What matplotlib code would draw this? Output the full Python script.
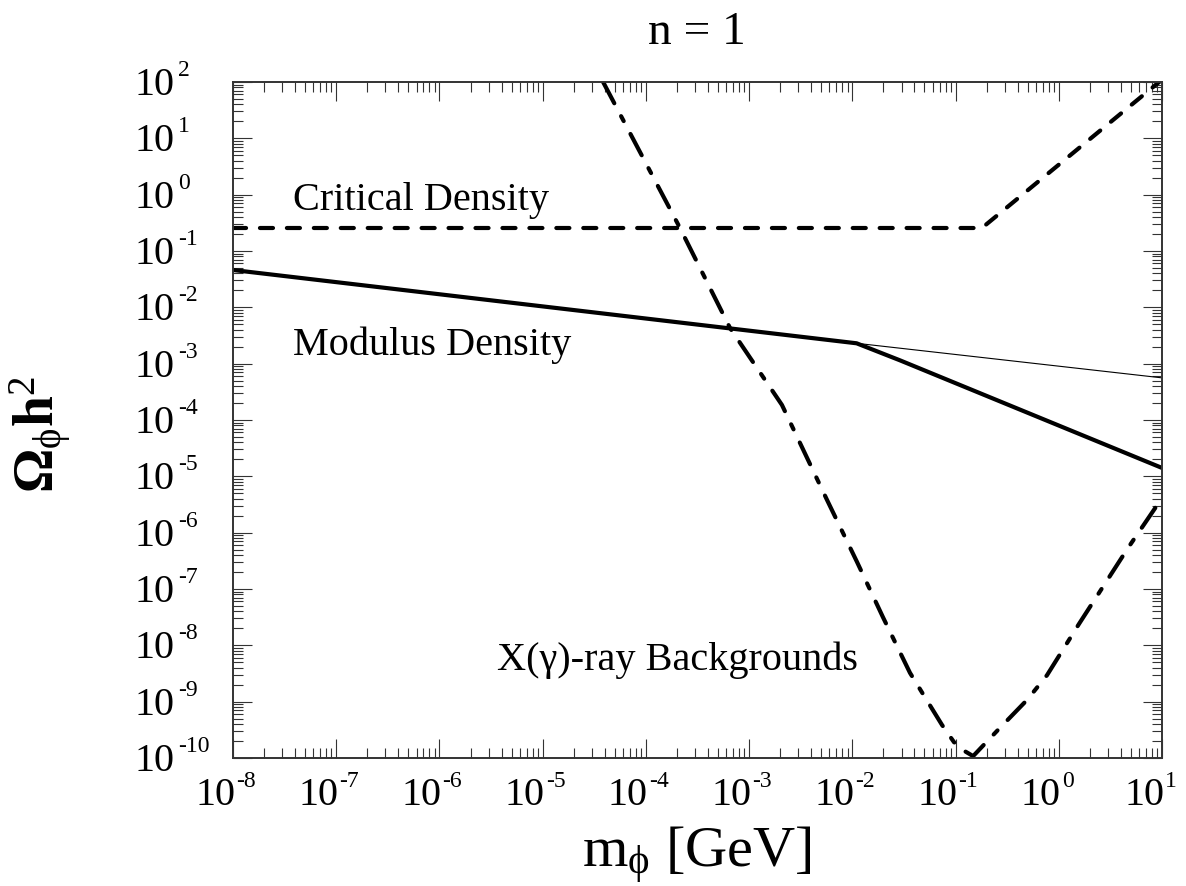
import matplotlib
matplotlib.use('Agg')
import matplotlib.pyplot as plt
from matplotlib.ticker import LogLocator, NullFormatter

plt.rcParams['font.family'] = ['Liberation Serif', 'DejaVu Serif']
plt.rcParams['mathtext.fontset'] = 'custom'
plt.rcParams['mathtext.rm'] = 'Liberation Serif'
plt.rcParams['mathtext.it'] = 'Liberation Serif:italic'
plt.rcParams['mathtext.bf'] = 'Liberation Serif:bold'
plt.rcParams['mathtext.fallback'] = 'stix'
plt.rcParams['lines.scale_dashes'] = False

# ---------------- data ----------------
x_exponents = [-8, -7, -6, -5, -4, -3, -2, -1, 0, 1]
y_exponents = [-10, -9, -8, -7, -6, -5, -4, -3, -2, -1, 0, 1, 2]

crit_x = [1e-8, 0.18, 10.0]
crit_y = [0.256, 0.256, 110.0]

mod_x = [1e-8, 1.1e-2, 2.88e-2, 10.0]
mod_y = [0.046, 2.3e-3, 1.15e-3, 1.41e-5]

mod_thin_x = [1.1e-2, 10.0]
mod_thin_y = [2.3e-3, 5.6e-4]

xray_x = [3.85e-5, 2.14e-4, 6.53e-4, 2.08e-3, 5.69e-3, 1.11e-2, 1.98e-2,
          3.62e-2, 7.40e-2, 9.66e-2, 0.118, 0.148, 0.258, 0.492, 0.769,
          1.57, 4.69, 10.0]
xray_y = [100.0, 0.256, 4.30e-3, 1.85e-4, 3.80e-6, 3.02e-7, 3.16e-8,
          3.24e-9, 3.85e-10, 1.91e-10, 1.38e-10, 1.08e-10, 3.16e-10,
          1.07e-9, 2.95e-9, 2.40e-8, 5.37e-7, 4.12e-6]

title = 'n = 1'
xlabel = '$\\mathrm{m}_{\\mathrm{\u03d5}}$ [GeV]'
ylabel = '$\\mathbf{\u03a9}_{\\mathrm{\u03d5}}\\mathbf{h}^{\\mathrm{2}}$'
label_crit = 'Critical Density'
label_mod = 'Modulus Density'
label_xray = 'X(\u03b3)-ray Backgrounds'

# ---------------- figure ----------------
PX = 72.0 / 100.0  # points per pixel at dpi 100

fig = plt.figure(figsize=(11.86, 8.86), dpi=100)
ax = fig.add_axes([233 / 1186, 128 / 886, 929 / 1186, 676 / 886])
ax.set_xscale('log')
ax.set_yscale('log')
ax.set_xlim(1e-8, 1e1)
ax.set_ylim(1e-10, 1e2)

lw = 3.0
ax.plot(crit_x, crit_y, color='black', lw=lw, dashes=(9.4, 10.0),
        dash_capstyle='round', solid_capstyle='round')
ax.plot(mod_x, mod_y, color='black', lw=lw, solid_capstyle='round',
        solid_joinstyle='round')
ax.plot(mod_thin_x, mod_thin_y, color='black', lw=0.8)
ax.plot(xray_x, xray_y, color='black', lw=lw,
        dashes=(17.3, 10.5, 4.0, 10.5), dash_capstyle='round')

# ticks
ax.xaxis.set_major_locator(LogLocator(base=10, numticks=20))
ax.yaxis.set_major_locator(LogLocator(base=10, numticks=20))
ax.xaxis.set_minor_locator(LogLocator(base=10, subs=range(2, 10), numticks=100))
ax.yaxis.set_minor_locator(LogLocator(base=10, subs=range(2, 10), numticks=100))
ax.xaxis.set_major_formatter(NullFormatter())
ax.yaxis.set_major_formatter(NullFormatter())
ax.xaxis.set_minor_formatter(NullFormatter())
ax.yaxis.set_minor_formatter(NullFormatter())
ax.tick_params(which='both', direction='in', top=True, right=True, width=0.8,
               color='#333333')
ax.tick_params(which='major', length=19 * PX)
ax.tick_params(which='minor', length=10 * PX)
for s in ax.spines.values():
    s.set_linewidth(1.4)
    s.set_color('#333333')

# manual tick labels (10 with raised exponent)
xt = ax.get_xaxis_transform()
for e in x_exponents:
    ax.annotate('10', xy=(10.0 ** e, 0), xycoords=xt,
                xytext=(2 * PX, -47 * PX), textcoords='offset points',
                ha='right', va='baseline', fontsize=29, annotation_clip=False)
    ax.annotate(str(e), xy=(10.0 ** e, 0), xycoords=xt,
                xytext=(3 * PX, -13 * PX), textcoords='offset points',
                ha='left', va='top', fontsize=17, annotation_clip=False)

yt = ax.get_yaxis_transform()
for e in y_exponents:
    ax.annotate('10', xy=(0, 10.0 ** e), xycoords=yt,
                xytext=(-58 * PX, -13 * PX), textcoords='offset points',
                ha='right', va='baseline', fontsize=29, annotation_clip=False)
    ax.annotate(str(e), xy=(0, 10.0 ** e), xycoords=yt,
                xytext=(-55 * PX, 22 * PX), textcoords='offset points',
                ha='left', va='top', fontsize=17, annotation_clip=False)

# in-plot labels
ax.text(10 ** -7.42, 10 ** -0.27, label_crit, fontsize=29, ha='left', va='baseline')
ax.text(10 ** -7.42, 10 ** -2.85, label_mod, fontsize=29, ha='left', va='baseline')
ax.text(10 ** -5.44, 10 ** -8.44, label_xray, fontsize=29, ha='left', va='baseline')

fig.text(697 / 1186, (886 - 44) / 886, title, fontsize=34, ha='center', va='baseline')
fig.text(697 / 1186, 19 / 886, xlabel, fontsize=42, ha='center', va='baseline')
fig.text(41 / 1186, (886 - 434) / 886, ylabel, fontsize=40, rotation=90,
         ha='center', va='center')

fig.savefig('out.png', dpi=100, facecolor='white')
